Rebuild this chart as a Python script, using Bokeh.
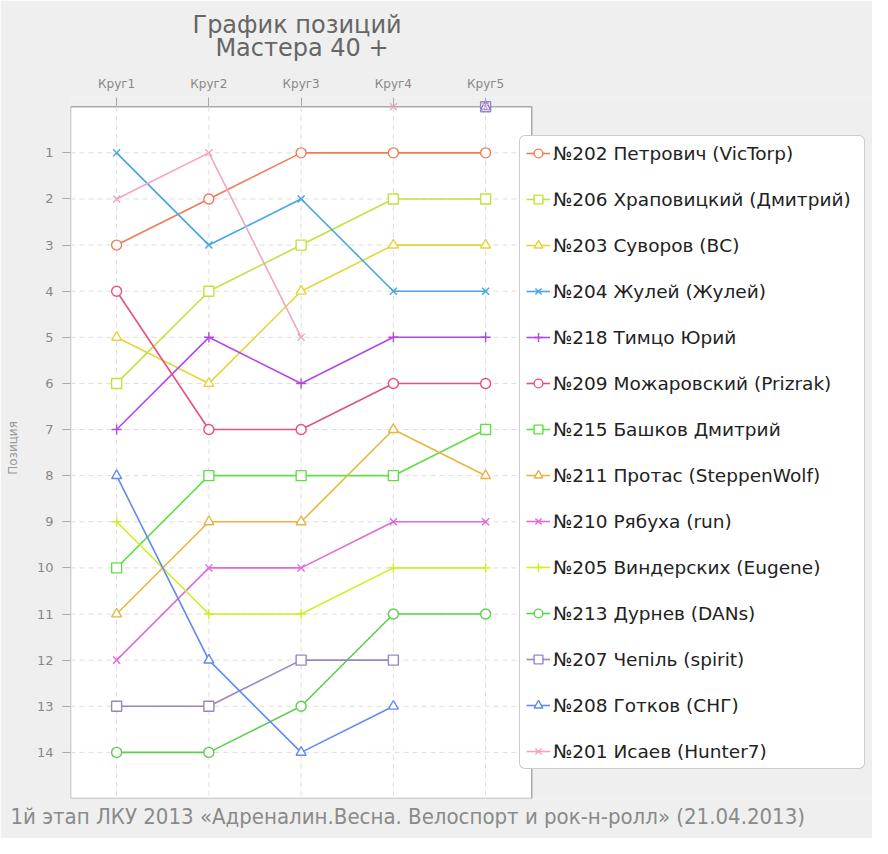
import math
from bokeh.plotting import figure
from bokeh.models import Range1d, FixedTicker, Legend, LegendItem, Title, BoxAnnotation
from bokeh.embed import file_html
from bokeh.resources import INLINE

rounds = ["Круг1", "Круг2", "Круг3", "Круг4", "Круг5"]
position_ticks = list(range(1, 15))

# 0 = not classified in that round (drawn at the top edge, no line)
names = [
    "№202 Петрович (VicTorp)",
    "№206 Храповицкий (Дмитрий)",
    "№203 Суворов (ВС)",
    "№204 Жулей (Жулей)",
    "№218 Тимцо Юрий",
    "№209 Можаровский (Prizrak)",
    "№215 Башков Дмитрий",
    "№211 Протас (SteppenWolf)",
    "№210 Рябуха (run)",
    "№205 Виндерских (Eugene)",
    "№213 Дурнев (DANs)",
    "№207 Чепіль (spirit)",
    "№208 Готков (СНГ)",
    "№201 Исаев (Hunter7)",
]
r202 = [3, 2, 1, 1, 1]
r206 = [6, 4, 3, 2, 2]
r203 = [5, 6, 4, 3, 3]
r204 = [1, 3, 2, 4, 4]
r218 = [7, 5, 6, 5, 5]
r209 = [4, 7, 7, 6, 6]
r215 = [10, 8, 8, 8, 7]
r211 = [11, 9, 9, 7, 8]
r210 = [12, 10, 10, 9, 9]
r205 = [9, 11, 11, 10, 10]
r213 = [14, 14, 13, 11, 11]
r207 = [13, 13, 12, 12, 0]
r208 = [8, 12, 14, 13, 0]
r201 = [2, 1, 5, 0, 0]
series = [r202, r206, r203, r204, r218, r209, r215, r211, r210, r205, r213, r207, r208, r201]

colors = ["#f07c55", "#bfe33d", "#e6d43c", "#45a5e6", "#b347e6", "#e8507f", "#5fdf45",
          "#e9b444", "#e06ad6", "#d2ee22", "#5ccf4a", "#9a86bd", "#6289ef", "#f2a5c2"]
markers = ["circle", "square", "triangle", "x", "cross", "circle", "square",
           "triangle", "x", "cross", "circle", "square", "triangle", "x"]

xs = list(range(1, len(rounds) + 1))
n_pos = len(position_ticks) + 1          # bottom of the plotting box
x_lo, x_hi = 0.5, len(rounds) + 0.5     # plotting box sides

FIG_W, FIG_H = 872, 838
LEFT, TOP, BOTTOM = 70, 97, 40
PX_PER_ROUND = 92.25
x_end = x_lo + (FIG_W - LEFT) / PX_PER_ROUND

p = figure(width=FIG_W, height=FIG_H,
           x_range=Range1d(x_lo, x_end),
           y_range=Range1d(n_pos, -0.2),
           x_axis_location="above",
           output_backend="svg", toolbar_location=None,
           min_border_left=LEFT, min_border_right=0,
           min_border_top=TOP, min_border_bottom=BOTTOM)
p.title.visible = False

p.background_fill_color = "#efefef"
p.border_fill_color = "#efefef"
p.outline_line_color = None
p.xgrid.visible = False
p.ygrid.visible = False

# white plotting box
p.add_layout(BoxAnnotation(left=x_lo, right=x_hi, top=0, bottom=n_pos,
                           fill_color="white", fill_alpha=1.0,
                           line_color="#aaaaaa", line_width=1.5, line_alpha=1.0,
                           level="underlay"))

# dashed grid inside the box
p.segment(x0=xs, y0=[0] * len(xs), x1=xs, y1=[n_pos] * len(xs),
          line_color="#dddddd", line_dash="5 4", line_width=1)
p.segment(x0=[x_lo] * len(position_ticks), y0=position_ticks,
          x1=[x_hi] * len(position_ticks), y1=position_ticks,
          line_color="#dddddd", line_dash="5 4", line_width=1)

p.xaxis.ticker = FixedTicker(ticks=xs)
p.xaxis.major_label_overrides = {x: r for x, r in zip(xs, rounds)}
p.xaxis.major_label_text_font = "DejaVu Sans"
p.xaxis.major_label_text_font_size = "12px"
p.xaxis.major_label_text_color = "#888888"
p.xaxis.major_tick_out = 0
p.xaxis.major_tick_in = 9
p.xaxis.minor_tick_line_color = None
p.xaxis.major_tick_line_color = "#aaaaaa"
p.xaxis.axis_line_color = None
p.xaxis.major_label_standoff = 7

p.yaxis.ticker = FixedTicker(ticks=position_ticks)
p.yaxis.major_label_text_font = "DejaVu Sans"
p.yaxis.major_label_text_font_size = "13px"
p.yaxis.major_label_text_color = "#888888"
p.yaxis.major_tick_out = 8
p.yaxis.major_tick_in = 0
p.yaxis.minor_tick_line_color = None
p.yaxis.major_tick_line_color = "#aaaaaa"
p.yaxis.axis_line_color = None
p.yaxis.major_label_standoff = 9
p.yaxis.axis_label = "Позиция"
p.yaxis.axis_label_text_font = "DejaVu Sans"
p.yaxis.axis_label_text_font_size = "12px"
p.yaxis.axis_label_text_font_style = "normal"
p.yaxis.axis_label_text_color = "#999999"
p.yaxis.axis_label_standoff = 14

# two-line title (second line centred with no-break spaces)
title = Title(text="График позиций\n\u00a0\u00a0\u00a0Мастера 40 +",
              align="left", vertical_align="top", offset=122, standoff=18,
              text_font="DejaVu Sans", text_font_size="24px",
              text_font_style="normal", text_color="#666666",
              text_line_height=0.84)
p.add_layout(title, "above")

items = []
for name, vals, col, mk in zip(names, series, colors, markers):
    ys_line = [v if v > 0 else math.nan for v in vals]
    lr = p.line(xs, ys_line, line_color=col, line_width=1.6)
    sr = p.scatter(xs, vals, marker=mk, size=10, line_color=col, line_width=1.4,
                   fill_color="white")
    items.append(LegendItem(label=name, renderers=[lr, sr]))

legend = Legend(items=items, location=(449, 29))
legend.label_text_font = "DejaVu Sans"
legend.label_text_font_size = "18.5px"
legend.label_text_color = "#222222"
legend.glyph_width = 24
legend.glyph_height = 22
legend.label_height = 22
legend.label_width = 305
legend.label_standoff = 3
legend.spacing = 24
legend.padding = 6
legend.margin = 0
legend.border_line_color = "#999999"
legend.border_line_width = 1.2
legend.background_fill_color = "white"
legend.background_fill_alpha = 1.0
if "border_radius" in Legend.properties():
    legend.border_radius = 6
p.add_layout(legend, "center")

foot = Title(text="1й этап ЛКУ 2013  «Адреналин.Весна. Велоспорт и рок-н-ролл» (21.04.2013)",
             align="left", text_font="DejaVu Sans Condensed",
             text_font_size="22px", text_font_style="normal", text_color="#8a8a8a",
             offset=-60, standoff=6)
p.add_layout(foot, "below")

open("out.html", "w").write(file_html(p, INLINE))
